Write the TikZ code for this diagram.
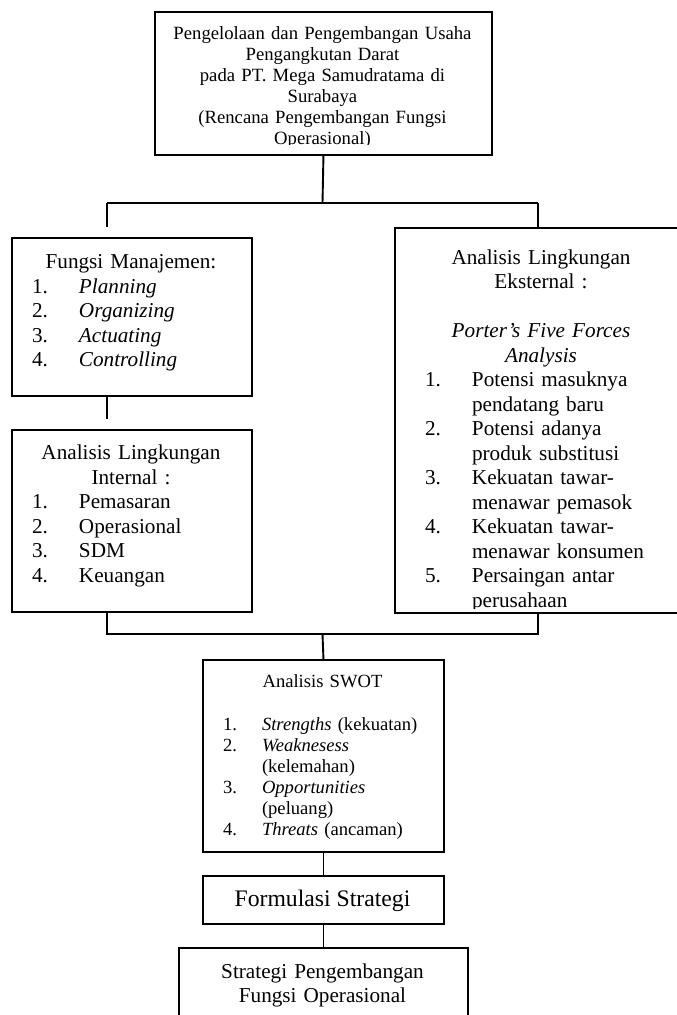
\documentclass[tikz,border=0pt]{standalone}
\usepackage{fontspec}
\setmainfont{Liberation Serif}
\usetikzlibrary{positioning}
\newlength{\kiri}
\newlength{\nomor}
\newcommand{\butir}[2]{\makebox[\linewidth][l]{\hspace{\kiri}\makebox[\nomor][l]{#1}#2}}

\begin{document}
\begin{tikzpicture}[x=1pt, y=-1pt, line width=1.9pt,
    kotak/.style={rectangle, draw, inner sep=0pt, anchor=north west},
    isi/.style={anchor=north, inner sep=0pt, align=center, text width=#1},
    besar/.style={font=\fontsize{21.2}{24.5}\selectfont},
    kecil/.style={font=\fontsize{18.6}{21.1}\selectfont}
    ]
\useasboundingbox (0,0) rectangle (677,1015);
\node[kotak, minimum width=337pt, minimum height=143pt] (judul) at (154,11) {};
\node[kotak, minimum width=240pt, minimum height=158pt] (fungsi) at (11,237) {};
\node[kotak, minimum width=240pt, minimum height=182pt] (internal) at (11,429) {};
\node[kotak, minimum width=290pt, minimum height=385pt] (eksternal) at (394,227) {};
\node[kotak, minimum width=241pt, minimum height=192pt] (swot) at (202,659) {};
\node[kotak, minimum width=241pt, minimum height=48pt] (formulasi) at (202,875) {};
\node[kotak, minimum width=289pt, minimum height=100pt] (strategi) at (178,947) {};

% teks yang terpotong oleh margin kotak
\begin{scope}
\clip (judul.north west) rectangle ([yshift=11pt]judul.south east);
\node[isi=337pt, font=\fontsize{18.7}{20.9}\selectfont] (judulteks) at (322.5,24.4)
  {\strut Pengelolaan dan Pengembangan Usaha\\ Pengangkutan Darat\\ pada PT. Mega Samudratama di\\
   Surabaya\\ (Rencana Pengembangan Fungsi\\ Operasional)};
\end{scope}

\setlength{\kiri}{21pt}\setlength{\nomor}{47pt}
\node[isi=240pt, besar] (fungsiteks) at (131,250.5)
  {\strut Fungsi Manajemen:\\ \butir{1.}{\textit{Planning}}\\ \butir{2.}{\textit{Organizing}}\\
   \butir{3.}{\textit{Actuating}}\\ \butir{4.}{\textit{Controlling}}};
\node[isi=240pt, besar] (internalteks) at (131,441.4)
  {\strut Analisis Lingkungan\\ Internal :\\ \butir{1.}{Pemasaran}\\ \butir{2.}{Operasional}\\
   \butir{3.}{SDM}\\ \butir{4.}{Keuangan}};

\begin{scope}
\clip (eksternal.north west) rectangle ([yshift=5pt]eksternal.south east);
\setlength{\kiri}{29pt}\setlength{\nomor}{47pt}
\node[isi=290pt, besar] (eksternalteks) at (541,245.9)
  {\strut Analisis Lingkungan\\ Eksternal :\\[24.5pt] \textit{Porter’s Five Forces}\\ \textit{Analysis}\\
   \butir{1.}{Potensi masuknya}\\ \butir{}{pendatang baru}\\
   \butir{2.}{Potensi adanya}\\ \butir{}{produk substitusi}\\
   \butir{3.}{Kekuatan tawar-}\\ \butir{}{menawar pemasok}\\
   \butir{4.}{Kekuatan tawar-}\\ \butir{}{menawar konsumen}\\
   \butir{5.}{Persaingan antar}\\ \butir{}{perusahaan}};
\end{scope}

\setlength{\kiri}{21pt}\setlength{\nomor}{39pt}
\node[isi=241pt, kecil] (swotteks) at (322.5,672.2)
  {\strut Analisis SWOT\\[21.1pt] \butir{1.}{\textit{Strengths} (kekuatan)}\\
   \butir{2.}{\textit{Weaknesess}}\\ \butir{}{(kelemahan)}\\
   \butir{3.}{\textit{Opportunities}}\\ \butir{}{(peluang)}\\
   \butir{4.}{\textit{Threats} (ancaman)}};
\node[anchor=base, inner sep=0pt, font=\fontsize{23.7}{28}\selectfont] (formulasiteks) at (322.5,906)
  {Formulasi Strategi};
\node[isi=289pt, besar] (strategiteks) at (322.5,959.9)
  {\strut Strategi Pengembangan\\ Fungsi Operasional};

\coordinate (cabang) at (322.5,203);
\coordinate (ca) at (107,203);
\coordinate (cb) at (538,203);
\coordinate (ca1) at (107,227);
\coordinate (ca2) at (107,419);
\coordinate (ga) at (107,634);
\coordinate (gb) at (538,634);
\coordinate (gabung) at (322.5,634);
\draw (judul.south) -- (cabang);
\draw (ca) -- (cb);
\draw (ca) -- (ca1);
\draw (cb) -- (eksternal.north -| cb);
\draw (fungsi.south -| ca) -- (ca2);
\draw (internal.south -| ga) -- (ga) -- (gb) -- (eksternal.south -| gb);
\draw (gabung) -- (swot.north);
\draw (swot.south) -- (formulasi.north);
\draw (formulasi.south) -- (strategi.north);
\end{tikzpicture}
\end{document}
